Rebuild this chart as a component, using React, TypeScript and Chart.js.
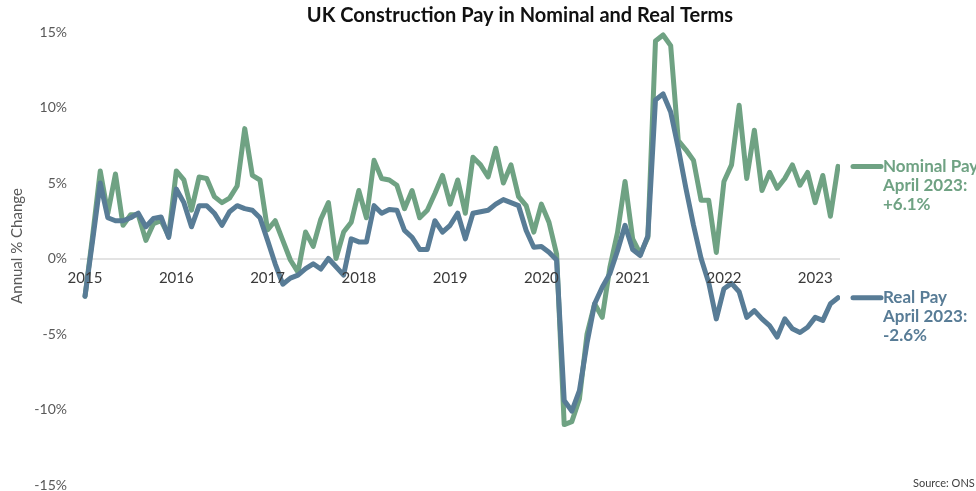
import React, { useEffect, useRef } from "react";
import { Chart, registerables } from "chart.js";

Chart.register(...registerables);

// ---- Data (monthly, Jan 2015 – Apr 2023) ----
const yearLabels = ["2015", "2016", "2017", "2018", "2019", "2020", "2021", "2022", "2023"];

const nominalPay = [
  -2.5, 1.5, 5.8, 3.0, 5.6, 2.2, 2.9, 2.9, 1.2, 2.3, 2.5, 1.5,
  5.8, 5.2, 3.2, 5.4, 5.3, 4.1, 3.7, 4.0, 4.8, 8.6, 5.5, 5.2,
  1.9, 2.5, 1.2, -0.1, -0.9, 1.75, 0.8, 2.6, 3.7, 0.0, 1.75, 2.4,
  4.5, 2.7, 6.5, 5.3, 5.2, 4.85, 3.3, 4.5, 2.7, 3.2, 4.3, 5.5,
  3.6, 5.2, 3.0, 6.7, 6.2, 5.4, 7.3, 5.0, 6.2, 4.1, 3.5, 1.75,
  3.6, 2.4, 0.3, -11.0, -10.8, -9.3, -5.0, -3.0, -3.9, -0.6, 1.7, 5.1,
  1.3, 0.3, 1.4, 14.4, 14.8, 14.1, 7.8, 7.2, 6.5, 3.85, 3.85, 0.4,
  5.1, 6.2, 10.15, 5.3, 8.5, 4.5, 5.7, 4.65, 5.3, 6.2, 4.85, 5.7,
  3.7, 5.5, 2.8, 6.1,
];

const realPay = [
  -2.5, 1.2, 5.0, 2.7, 2.5, 2.5, 2.7, 3.0, 2.1, 2.65, 2.75, 1.4,
  4.6, 3.7, 2.1, 3.5, 3.5, 3.0, 2.2, 3.1, 3.5, 3.3, 3.2, 2.7,
  1.2, -0.35, -1.7, -1.3, -1.1, -0.67, -0.35, -0.7, 0.0, -0.55, -1.1, 1.3,
  1.1, 1.1, 3.5, 3.0, 3.25, 3.2, 1.86, 1.4, 0.6, 0.6, 2.5, 1.75,
  2.2, 3.0, 1.3, 3.0, 3.1, 3.2, 3.6, 3.9, 3.7, 3.5, 1.86, 0.75,
  0.8, 0.42, -0.1, -9.4, -10.1, -8.75, -5.6, -3.0, -1.9, -1.0, 0.5, 2.2,
  0.6, 0.2, 1.5, 10.5, 10.9, 9.7, 7.3, 4.65, 2.2, 0.0, -1.6, -4.0,
  -2.0, -1.65, -2.2, -3.9, -3.45, -4.0, -4.45, -5.2, -4.0, -4.65, -4.9, -4.55,
  -3.9, -4.1, -3.0, -2.6,
];

const yTickValues = [-15, -10, -5, 0, 5, 10, 15];
const seriesNames = ["Nominal Pay", "Real Pay"];
const latestPeriod = "April 2023:";
const titleText = "UK Construction Pay in Nominal and Real Terms";
const yAxisTitle = "Annual % Change";
const sourceText = "Source: ONS";

const GREEN = "#6fa283";
const BLUE = "#587c96";
const FONT = "Lato, 'Open Sans', sans-serif";

const fmtPct = (v: number) => (v > 0 ? "+" : "") + v.toFixed(1) + "%";

const overlayPlugin = {
  id: "overlay",
  afterDatasetsDraw(chart: any) {
    // x-axis year labels, placed just below the 0% line
    const { ctx } = chart;
    const xScale = chart.scales.x;
    const yScale = chart.scales.y;
    const y0 = yScale.getPixelForValue(0);
    ctx.save();
    ctx.font = `15px ${FONT}`;
    ctx.fillStyle = "#3a3a3a";
    ctx.textAlign = "center";
    ctx.textBaseline = "middle";
    yearLabels.forEach((lab, k) => {
      ctx.fillText(lab, xScale.getPixelForValue(k * 12), y0 + 20);
    });
    ctx.restore();
  },
  afterDraw(chart: any) {
    const { ctx, chartArea } = chart;
    const yScale = chart.scales.y;
    ctx.save();

    // Title
    ctx.font = `bold 20px ${FONT}`;
    ctx.fillStyle = "#111111";
    ctx.textAlign = "center";
    ctx.textBaseline = "middle";
    ctx.fillText(titleText, 520, 16);

    // Y axis title
    ctx.save();
    ctx.translate(17, 246);
    ctx.rotate(-Math.PI / 2);
    ctx.font = `15px ${FONT}`;
    ctx.fillStyle = "#595959";
    ctx.textAlign = "center";
    ctx.textBaseline = "middle";
    ctx.fillText(yAxisTitle, 0, 0);
    ctx.restore();

    // End-of-line annotations
    const items = [
      { name: seriesNames[0], value: nominalPay[nominalPay.length - 1], color: GREEN },
      { name: seriesNames[1], value: realPay[realPay.length - 1], color: BLUE },
    ];
    items.forEach((it) => {
      const py = yScale.getPixelForValue(it.value);
      ctx.strokeStyle = it.color;
      ctx.lineWidth = 5;
      ctx.lineCap = "round";
      ctx.beginPath();
      ctx.moveTo(chartArea.right + 13, py);
      ctx.lineTo(chartArea.right + 41, py);
      ctx.stroke();
      ctx.fillStyle = it.color;
      ctx.font = `bold 17px ${FONT}`;
      ctx.textAlign = "left";
      ctx.textBaseline = "middle";
      const tx = chartArea.right + 43;
      ctx.fillText(it.name, tx, py);
      ctx.fillText(latestPeriod, tx, py + 19);
      ctx.fillText(fmtPct(it.value), tx, py + 38);
    });

    // Source
    ctx.font = `11px ${FONT}`;
    ctx.fillStyle = "#404040";
    ctx.textAlign = "left";
    ctx.textBaseline = "middle";
    ctx.fillText(sourceText, 913, 483);

    ctx.restore();
  },
};

export default function App() {
  const canvasRef = useRef<HTMLCanvasElement | null>(null);

  useEffect(() => {
    document.body.style.margin = "0";
    const canvas = canvasRef.current;
    if (!canvas) return;

    const chart = new Chart(canvas, {
      type: "line",
      data: {
        datasets: [
          {
            label: seriesNames[1],
            data: realPay.map((v, i) => ({ x: i, y: v })),
            borderColor: BLUE,
            borderWidth: 5,
            pointRadius: 0,
            tension: 0,
            borderJoinStyle: "round",
            borderCapStyle: "round",
            order: 0,
          },
          {
            label: seriesNames[0],
            data: nominalPay.map((v, i) => ({ x: i, y: v })),
            borderColor: GREEN,
            borderWidth: 5,
            pointRadius: 0,
            tension: 0,
            borderJoinStyle: "round",
            borderCapStyle: "round",
            order: 1,
          },
        ],
      },
      options: {
        animation: false,
        responsive: true,
        maintainAspectRatio: false,
        layout: { padding: { left: 0, right: 136, top: 32, bottom: 6 } },
        plugins: {
          legend: { display: false },
          tooltip: { enabled: false },
          title: { display: false },
        },
        scales: {
          x: {
            type: "linear",
            position: "bottom",
            min: -0.66,
            max: 99.26,
            afterBuildTicks: (scale: any) => {
              scale.ticks = yearLabels.map((_, k) => ({ value: k * 12 }));
            },
            afterFit: (scale: any) => {
              scale.height = 0;
            },
            ticks: { display: false },
            grid: { display: false, drawTicks: false },
            border: { display: false },
          },
          y: {
            type: "linear",
            min: -15,
            max: 15,
            afterBuildTicks: (scale: any) => {
              scale.ticks = yTickValues.map((v) => ({ value: v }));
            },
            afterFit: (scale: any) => {
              scale.width = 80;
              scale.paddingTop = 0;
              scale.paddingBottom = 0;
            },
            ticks: {
              padding: 13,
              color: "#595959",
              font: { family: FONT, size: 14 },
              callback: (v: any) => `${v}%`,
            },
            grid: {
              drawTicks: false,
              lineWidth: 2,
              color: (c: any) => (c.tick && c.tick.value === 0 ? "#e3e3e3" : "rgba(0,0,0,0)"),
            },
            border: { display: false },
          },
        },
      },
      plugins: [overlayPlugin],
    });

    return () => chart.destroy();
  }, []);

  return (
    <div style={{ width: "976px", height: "491px", position: "relative" }}>
      <canvas ref={canvasRef} />
    </div>
  );
}
